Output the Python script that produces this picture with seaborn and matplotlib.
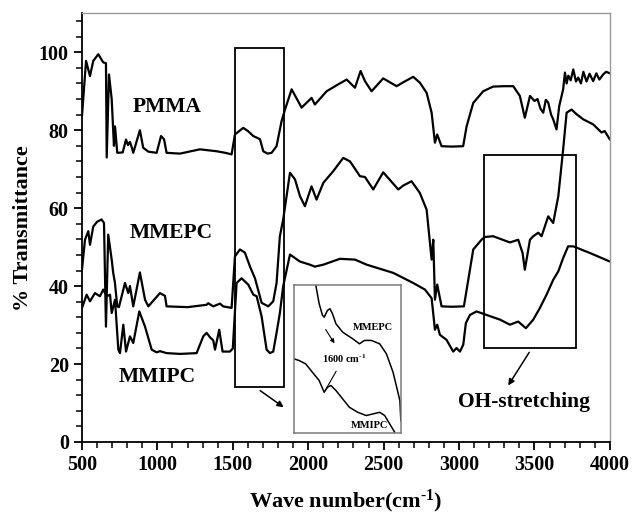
import numpy as np
import pandas as pd
import matplotlib
matplotlib.use("Agg")
import matplotlib.pyplot as plt
import seaborn as sns
from matplotlib.patches import Rectangle

# ---------------- data ----------------
pmma_x = [500, 527, 553, 575, 608, 641, 659, 664, 679, 697, 712, 719, 734, 770, 792, 805, 818, 830, 840,
          884, 906, 940, 995, 1024, 1044, 1061, 1150, 1282, 1393, 1450, 1492, 1514, 1569, 1600, 1636, 1680,
          1702, 1730, 1757, 1790, 1823, 1846, 1890, 1956, 2022, 2044, 2122, 2200, 2255, 2310, 2347, 2376,
          2420, 2497, 2586, 2630, 2696, 2740, 2785, 2818, 2840, 2855, 2884, 2950, 3027, 3050, 3094, 3160,
          3226, 3300, 3359, 3403, 3436, 3470, 3500, 3520, 3540, 3558, 3575, 3591, 3610, 3624, 3646, 3664,
          3690, 3702, 3713, 3724, 3740, 3757, 3775, 3790, 3808, 3824, 3845, 3865, 3889, 3910, 3930, 3955,
          3975, 4000]
pmma_y = [83.6, 97.8, 93.9, 97.8, 99.5, 97.4, 97.2, 73.0, 94.3, 88.0, 76.0, 81.0, 74.2, 74.3, 77.6, 76.2, 77.0, 75.6, 74.2,
          80.0, 75.5, 74.5, 74.2, 78.5, 77.7, 74.2, 74.0, 75.1, 74.6, 74.2, 73.8, 78.9, 80.6, 79.8, 78.5, 77.7,
          74.6, 74.0, 74.2, 75.9, 82.3, 85.3, 90.5, 85.8, 88.3, 86.6, 90.0, 91.8, 93.0, 90.9, 95.2, 92.6,
          90.0, 93.3, 91.3, 92.3, 93.7, 92.2, 89.6, 84.5, 76.8, 78.9, 75.9, 75.8, 75.9, 81.0, 87.0, 90.0,
          91.2, 91.3, 91.3, 88.8, 83.2, 88.8, 87.5, 88.0, 85.5, 84.5, 87.8, 87.1, 84.0, 82.8, 80.2, 86.2,
          90.5, 94.8, 92.0, 94.0, 92.8, 95.6, 92.5, 93.5, 92.0, 95.0, 92.5, 94.5, 92.6, 94.6, 93.0, 94.3,
          95.0, 94.6]

mmepc_x = [500, 520, 542, 553, 575, 600, 630, 646, 659, 674, 697, 707, 718, 734, 745, 785, 807, 818, 840,
           884, 918, 940, 1017, 1050, 1061, 1200, 1326, 1337, 1370, 1415, 1436, 1492, 1514, 1547, 1580,
           1614, 1647, 1691, 1735, 1768, 1790, 1812, 1834, 1879, 1912, 1945, 1978, 2000, 2022, 2055, 2100,
           2166, 2232, 2277, 2343, 2376, 2431, 2497, 2597, 2630, 2685, 2740, 2785, 2818, 2829, 2840, 2855,
           2884, 2950, 3032, 3061, 3094, 3149, 3171, 3226, 3337, 3392, 3421, 3436, 3470, 3492, 3525, 3547,
           3591, 3624, 3658, 3690, 3713, 3746, 3779, 3823, 3889, 3945, 3965, 4000]
mmepc_y = [44.2, 51.9, 54.1, 50.6, 55.3, 56.5, 57.1, 56.2, 29.6, 53.2, 46.8, 43.4, 41.0, 34.8, 34.6, 40.8, 38.2, 40.0, 34.8,
           43.5, 36.5, 34.8, 38.2, 37.5, 34.8, 34.6, 35.2, 35.6, 34.8, 35.5, 34.8, 34.4, 47.6, 49.4, 48.6,
           45.0, 42.0, 35.7, 34.8, 36.1, 40.8, 52.8, 57.1, 69.1, 67.4, 63.1, 60.5, 63.1, 65.6, 62.2, 66.5,
           69.5, 72.9, 72.0, 68.2, 68.0, 64.8, 69.2, 64.8, 65.8, 66.9, 63.9, 59.6, 46.8, 51.9, 36.5, 40.4,
           34.8, 34.7, 34.8, 41.6, 49.4, 51.9, 52.6, 52.8, 51.2, 51.9, 48.5, 44.2, 51.9, 52.8, 53.7, 52.8,
           57.9, 56.2, 63.1, 75.1, 84.5, 85.3, 84.1, 82.8, 81.5, 79.4, 79.8, 77.6]

mmipc_x = [500, 531, 553, 586, 619, 641, 664, 686, 697, 719, 741, 752, 774, 792, 818, 840, 880, 918,
           962, 995, 1017, 1061, 1150, 1260, 1304, 1326, 1350, 1370, 1382, 1410, 1432, 1481, 1500, 1525,
           1558, 1602, 1636, 1658, 1691, 1724, 1746, 1768, 1790, 1812, 1834, 1879, 1945, 2011, 2044, 2100,
           2210, 2310, 2387, 2563, 2696, 2774, 2818, 2840, 2855, 2873, 2917, 2961, 2983, 3006, 3028, 3045,
           3072, 3116, 3182, 3271, 3337, 3392, 3443, 3492, 3536, 3580, 3624, 3658, 3690, 3723, 3757, 3867,
           4000]
mmipc_y = [34.4, 37.8, 36.1, 38.2, 37.4, 39.1, 37.4, 37.8, 33.1, 36.5, 23.7, 22.8, 30.1, 23.2, 27.1, 25.4, 33.5, 29.6,
           23.7, 23.0, 23.3, 22.8, 22.6, 22.8, 27.1, 28.0, 26.8, 26.1, 23.7, 28.8, 23.2, 23.2, 24.0, 40.8,
           42.0, 40.4, 37.8, 37.4, 32.2, 23.7, 22.8, 23.2, 28.0, 33.1, 40.0, 48.1, 46.3, 45.5, 45.0, 45.5,
           47.0, 46.8, 45.5, 43.4, 40.8, 39.1, 36.9, 28.8, 30.1, 27.5, 26.2, 23.2, 24.1, 23.2, 25.0, 30.5,
           32.6, 33.5, 32.6, 31.4, 30.1, 30.9, 29.2, 31.4, 34.4, 37.8, 41.6, 43.8, 47.2, 50.2, 50.2, 48.5,
           46.3]

# inset (zoomed view near 1600 cm-1), relative units 0-100
ins_mmepc_x = [20.5, 23.6, 26.7, 28.3, 31.4, 33.7, 36.1, 39.3, 45.6, 55.0, 61.3, 66.0, 72.4, 80.2, 86.5, 92.7, 99.1, 100.0]
ins_mmepc_y = [100.0, 87.6, 79.6, 78.4, 83.0, 84.1, 80.7, 73.9, 68.2, 63.7, 60.3, 62.6, 62.6, 60.3, 53.5, 41.0, 21.8, 8.0]
ins_mmipc_x = [0.0, 4.7, 11.0, 17.3, 23.6, 28.3, 31.4, 34.6, 39.3, 45.6, 51.9, 59.7, 67.6, 73.9, 80.2, 84.9, 89.6, 94.3]
ins_mmipc_y = [50.1, 49.0, 46.7, 41.0, 35.4, 27.4, 30.8, 32.0, 28.6, 22.9, 17.2, 13.8, 11.6, 12.7, 13.8, 11.6, 5.9, 0.2]

series_names = ["PMMA", "MMEPC", "MMIPC"]

# ---------------- styling ----------------
sns.set_theme(style="ticks")
plt.rcParams["font.family"] = ["Liberation Serif", "DejaVu Serif"]
plt.rcParams["font.weight"] = "bold"
plt.rcParams["text.color"] = "black"
plt.rcParams["axes.labelcolor"] = "black"
plt.rcParams["xtick.color"] = "black"
plt.rcParams["ytick.color"] = "black"
plt.rcParams["mathtext.fontset"] = "custom"
plt.rcParams["mathtext.rm"] = "Liberation Serif:bold"
plt.rcParams["mathtext.bf"] = "Liberation Serif:bold"
plt.rcParams["mathtext.default"] = "bf"

fig = plt.figure(figsize=(6.34, 5.22), dpi=100)
ax = fig.add_axes([0.1293, 0.1533, 0.962 - 0.1293, 0.9745 - 0.1533])

frames = []
for name, xs, ys in zip(series_names, [pmma_x, mmepc_x, mmipc_x], [pmma_y, mmepc_y, mmipc_y]):
    frames.append(pd.DataFrame({"wave": xs, "T": ys, "sample": name}))
df = pd.concat(frames, ignore_index=True)

sns.lineplot(data=df, x="wave", y="T", hue="sample", units="sample", estimator=None,
             palette=["black"] * 3, linewidth=1.6, legend=False, ax=ax, sort=False)

ax.set_xlim(500, 4000)
ax.set_ylim(0, 110)
ax.set_xticks([500, 1000, 1500, 2000, 2500, 3000, 3500, 4000])
ax.set_xticks(np.arange(500, 4001, 100), minor=True)
ax.set_yticks([0, 20, 40, 60, 80, 100])
ax.set_yticks(np.arange(0, 110, 4), minor=True)
ax.tick_params(axis="both", which="major", direction="out", length=6, width=1.3,
               labelsize=14.5, colors="black", top=False, right=False)
ax.tick_params(axis="both", which="minor", direction="out", length=4, width=1.1,
               colors="black", top=False, right=False)
for lab in ax.get_xticklabels() + ax.get_yticklabels():
    lab.set_fontweight("bold")
for s in ["left", "bottom"]:
    ax.spines[s].set_color("black")
    ax.spines[s].set_linewidth(1.3)
for s in ["top", "right"]:
    ax.spines[s].set_color("#9a9a9a")
    ax.spines[s].set_linewidth(1.0)

ax.set_xlabel(r"Wave number(cm$^{\text{-1}}$)", fontsize=16, fontweight="bold", labelpad=9)
ax.set_ylabel("% Transmittance", fontsize=16, fontweight="bold", labelpad=4)

# labels on the curves
ax.text(1063, 85.9, "PMMA", fontsize=15.5, fontweight="bold", ha="center", va="center")
ax.text(1090, 53.7, "MMEPC", fontsize=15.5, fontweight="bold", ha="center", va="center")
ax.text(997, 16.7, "MMIPC", fontsize=15.5, fontweight="bold", ha="center", va="center")
ax.text(3430, 10.3, "OH-stretching", fontsize=15.5, fontweight="bold", ha="center", va="center")

# highlight boxes
ax.add_patch(Rectangle((1514, 14), 1837 - 1514, 101 - 14, fill=False, ec="black", lw=1.3))
ax.add_patch(Rectangle((3166, 24), 3778 - 3166, 73.6 - 24, fill=False, ec="black", lw=1.3))
ax.annotate("", xy=(1852, 8.5), xytext=(1666, 13.6),
            arrowprops=dict(arrowstyle="-|>", color="black", lw=1.1, mutation_scale=9))
ax.annotate("", xy=(3316, 13.9), xytext=(3475, 23.6),
            arrowprops=dict(arrowstyle="-|>", color="black", lw=1.1, mutation_scale=9))

# inset
ins = ax.inset_axes([1905, 2.4, 2614 - 1905, 40.2 - 2.4], transform=ax.transData)
idf = pd.concat([pd.DataFrame({"x": ins_mmepc_x, "y": ins_mmepc_y, "s": "MMEPC"}),
                 pd.DataFrame({"x": ins_mmipc_x, "y": ins_mmipc_y, "s": "MMIPC"})], ignore_index=True)
sns.lineplot(data=idf, x="x", y="y", hue="s", units="s", estimator=None, palette=["black"] * 2,
             linewidth=1.1, legend=False, ax=ins, sort=False)
ins.set_xlim(0, 100)
ins.set_ylim(0, 100)
ins.set_xticks([])
ins.set_yticks([])
ins.set_xlabel("")
ins.set_ylabel("")
for s in ins.spines.values():
    s.set_color("#7a7a7a")
    s.set_linewidth(1.1)
ins.text(73.6, 71.4, "MMEPC", fontsize=7.5, fontweight="bold", ha="center", va="center")
ins.text(70.8, 4.8, "MMIPC", fontsize=7.5, fontweight="bold", ha="center", va="center")
ins.text(47.2, 50.3, r"1600 cm$^{\text{-1}}$", fontsize=7.5, fontweight="bold", ha="center", va="center")
ins.annotate("", xy=(39.3, 59.0), xytext=(28.3, 71.6),
             arrowprops=dict(arrowstyle="-|>", color="black", lw=0.8, mutation_scale=6))
ins.annotate("", xy=(28.3, 27.4), xytext=(40.8, 43.3),
             arrowprops=dict(arrowstyle="-", color="black", lw=0.8))

fig.savefig("out.png", dpi=100)
